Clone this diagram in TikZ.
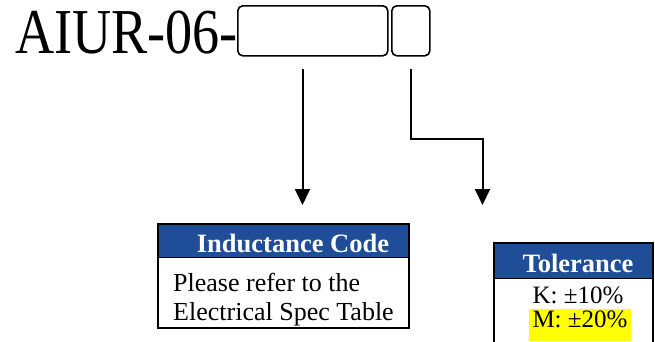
\documentclass[tikz,border=0pt]{standalone}
\usepackage{fontspec}
\setmainfont{Liberation Serif}
\usetikzlibrary{arrows.meta}
\definecolor{hdrblue}{RGB}{31,77,152}
\definecolor{hlyellow}{RGB}{255,255,0}
\begin{document}
\begin{tikzpicture}[x=1pt,y=-1pt,
  slot/.style={draw,line width=1.6pt,rounded corners=5pt},
  conn/.style={line width=2pt,-{Triangle[length=16pt,width=15pt]}},
  frame/.style={draw,line width=2pt},
  hdr/.style={fill=hdrblue},
  hdrtext/.style={text=white,font=\fontsize{26.5}{28}\selectfont\bfseries,inner sep=0pt,anchor=base},
  bodytext/.style={font=\fontsize{26}{29}\selectfont,align=left,inner sep=0pt},
  toltext/.style={font=\fontsize{25}{28}\selectfont,inner sep=0pt,anchor=base},
]
\useasboundingbox (0,0) rectangle (655,341);
% title
\node[anchor=base west,inner sep=0pt,font=\fontsize{64}{64}\selectfont] (title) at (15,53) {\scalebox{0.847}[1]{AIUR-06-}};
\node[slot,minimum width=150pt,minimum height=50pt,anchor=north west] (s1) at (237,5) {};
\node[slot,minimum width=38pt,minimum height=50pt,anchor=north west] (s2) at (391,5) {};
% arrows
\coordinate (a1s) at (302.5,69);
\coordinate (a1e) at (302.5,205);
\coordinate (a2s) at (411,69);
\coordinate (a2e) at (482.5,205);
\draw[conn] (a1s) -- (a1e);
\draw[conn] (a2s) |- (482.5,139) -- (a2e);
% inductance box
\node[hdr,minimum width=251pt,minimum height=34pt,anchor=north west,inner sep=0pt] (ih) at (157,223) {};
\node[hdrtext] (iht) at (293,252) {Inductance Code};
\node[frame,minimum width=251pt,minimum height=104pt,anchor=north west,inner sep=0pt] (ib) at (157,223) {};
\draw[line width=1pt] (ib.west |- 0,257) -- (ib.east |- 0,257);
\node[bodytext,anchor=base west] (itx) at (173,320) {Please refer to the\\Electrical Spec Table};
% tolerance box
\node[hdr,minimum width=159pt,minimum height=35pt,anchor=north west,inner sep=0pt] (th) at (494,243) {};
\node[hdrtext] (tht) at (578,272) {Tolerance};
\draw[line width=2pt] (494,344) -- (494,243) -- (653,243) -- (653,344);
\draw[line width=1pt] (494,278) -- (653,278);
\fill[hlyellow] (529,309) rectangle (631,341);
\node[toltext] (k) at (578,303) {K: ±10\%};
\node[toltext] (m) at (580,327) {M: ±20\%};
\end{tikzpicture}
\end{document}
